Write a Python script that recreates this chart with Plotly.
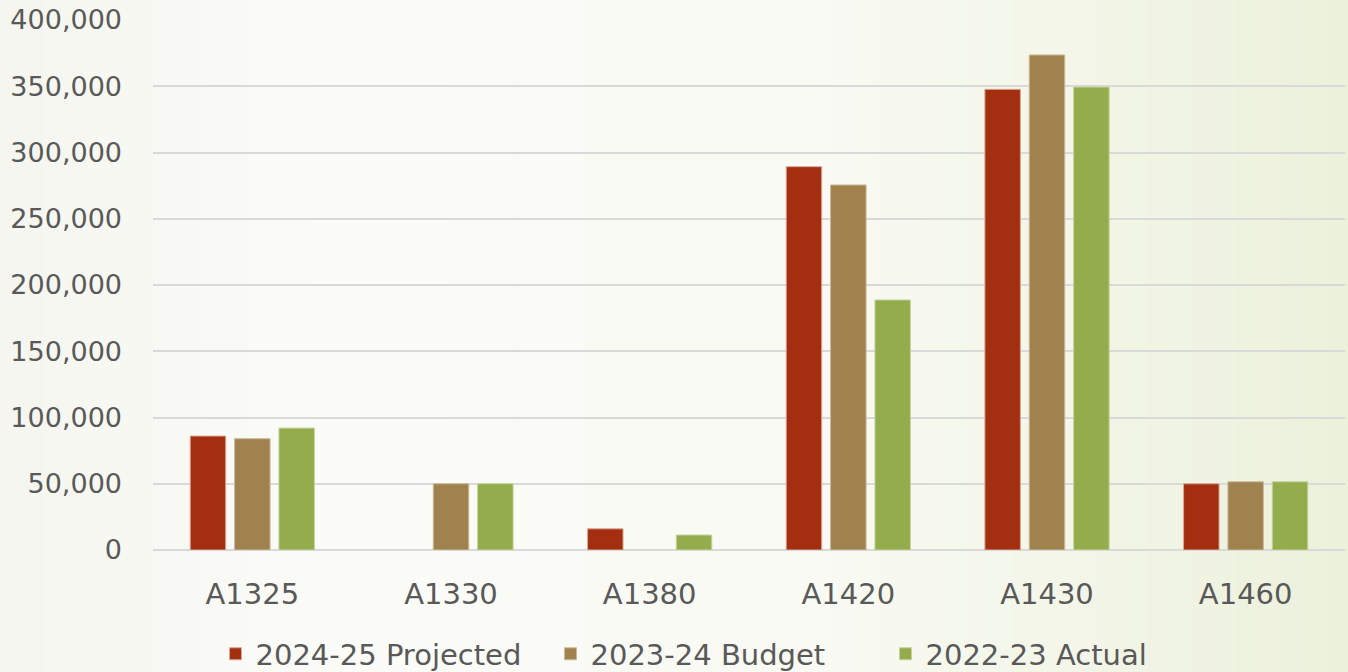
import plotly.graph_objects as go

categories = ["A1325", "A1330", "A1380", "A1420", "A1430", "A1460"]
projected_2024_25 = [86000, None, 16000, 289300, 347700, 50000]
budget_2023_24 = [84000, 50000, None, 275500, 373600, 51500]
actual_2022_23 = [92000, 50000, 11300, 188700, 349400, 51500]
y_ticks = [0, 50000, 100000, 150000, 200000, 250000, 300000, 350000, 400000]
y_tick_labels = ["0", "50,000", "100,000", "150,000", "200,000", "250,000", "300,000", "350,000", "400,000"]

series = [
    ("2024-25 Projected", projected_2024_25, "#A32E10", "#d9a898"),
    ("2023-24 Budget", budget_2023_24, "#A0824F", "#cdb898"),
    ("2022-23 Actual", actual_2022_23, "#94AC4C", "#c4d49c"),
]

fig = go.Figure()
for name, vals, col, edge in series:
    fig.add_trace(go.Bar(
        name=name, x=categories, y=vals,
        marker=dict(color=col, line=dict(color=edge, width=1)),
    ))

# background gradient (white-ish to light green at right)
def lerp(c1, c2, t):
    return tuple(int(round(a + (b - a) * t)) for a, b in zip(c1, c2))

stops = [(0.0, (245, 246, 239)), (0.25, (251, 251, 248)), (0.6, (249, 250, 243)), (1.0, (236, 241, 220))]
shapes = []
n = 60
px0, px1 = -0.1300, 1.0040
for i in range(n):
    t = (i + 0.5) / n
    for j in range(len(stops) - 1):
        if stops[j][0] <= t <= stops[j + 1][0]:
            tt = (t - stops[j][0]) / (stops[j + 1][0] - stops[j][0])
            c = lerp(stops[j][1], stops[j + 1][1], tt)
            break
    shapes.append(dict(
        type="rect", xref="paper", yref="paper", layer="below",
        x0=px0 + (px1 - px0) * i / n, x1=px0 + (px1 - px0) * (i + 1) / n + 0.001,
        y0=-0.25, y1=1.05, line=dict(width=0),
        fillcolor="rgb(%d,%d,%d)" % c,
    ))

font_family = "'DejaVu Sans', sans-serif"
fig.update_layout(
    width=1348, height=672,
    margin=dict(l=153, r=3, t=20, b=122, autoexpand=False),
    paper_bgcolor="#f9faf4",
    plot_bgcolor="rgba(0,0,0,0)",
    barmode="group",
    bargap=0.33,
    bargroupgap=0.2,
    shapes=shapes,
    font=dict(family=font_family, size=27, color="#595959"),
    showlegend=True,
    legend=dict(
        orientation="h", x=0.474, xanchor="center", y=-0.148, yanchor="top",
        font=dict(size=29, color="#595959"), bgcolor="rgba(0,0,0,0)",
        itemwidth=30, traceorder="normal", entrywidth=290, entrywidthmode="pixels",
    ),
    xaxis=dict(
        showgrid=False, showline=False, ticks="", tickfont=dict(size=29, color="#595959"),
        ticklabelstandoff=24, automargin=False,
    ),
    yaxis=dict(
        range=[0, 400000], tickvals=y_ticks, ticktext=y_tick_labels,
        showgrid=True, gridcolor="#d9d9d9", gridwidth=2,
        zeroline=True, zerolinecolor="#d9d9d9", zerolinewidth=2,
        showline=False, ticks="", tickfont=dict(size=27, color="#595959"),
        ticklabelstandoff=30, automargin=False,
    ),
)

fig.write_html("out.html", config={"displayModeBar": False},
               post_script="document.body.style.margin='0';")
